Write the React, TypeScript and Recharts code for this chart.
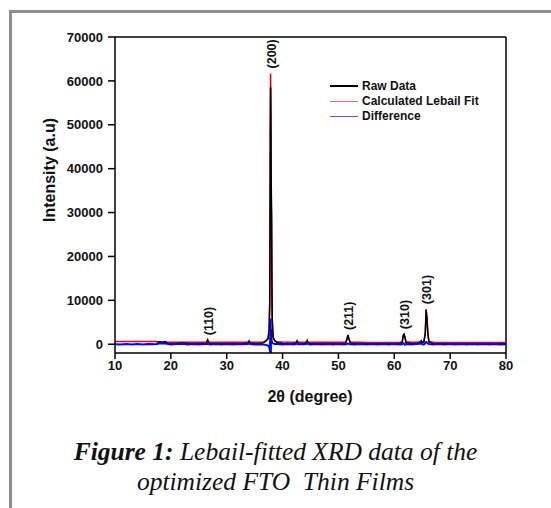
import React from "react";
import {
  ComposedChart,
  Line,
  XAxis,
  YAxis,
  ReferenceLine,
  ReferenceDot,
} from "recharts";

// 2-theta positions (degrees)
const twoTheta = [
  10, 11, 12, 13, 14, 15, 16, 17, 17.5, 18,
  18.5, 19, 19.5, 20, 21, 22, 23, 24, 25, 26,
  26.4, 26.6, 26.8, 27, 28, 29, 30, 31, 32, 33,
  33.8, 34, 34.2, 35, 36, 36.6, 37, 37.4, 37.6, 37.7,
  37.75, 37.8, 37.85, 37.9, 37.95, 38, 38.05, 38.1, 38.15, 38.3,
  38.6, 39, 40, 41, 42, 42.4, 42.6, 42.8, 43, 44,
  44.2, 44.4, 44.6, 45, 46, 47, 48, 49, 50, 51,
  51.3, 51.55, 51.7, 51.85, 52.1, 53, 54, 55, 56, 57,
  58, 59, 60, 61, 61.4, 61.6, 61.75, 61.9, 62.1, 63,
  64, 64.6, 64.8, 65, 65.3, 65.55, 65.7, 65.85, 66, 66.2,
  67, 68, 69, 70, 71, 72, 73, 74, 75, 76,
  77, 78, 79, 80,
];

// raw scan only shows from ~17.5 deg on
const rawData = [
  null, null, null, null, null, null, null, null, 200, 600,
  450, 620, 160, 130, 120, 330, 110, 120, 100, 140,
  300, 980, 300, 120, 110, 100, 100, 90, 100, 110,
  250, 760, 250, 90, 100, 350, 700, 1200, 3000, 9000,
  24000, 45000, 58500, 52000, 40000, 32000, 29000, 14000, 6000, 1600,
  800, 400, 160, 130, 120, 250, 780, 250, 120, 130,
  280, 880, 280, 110, 100, 90, 100, 90, 90, 100,
  250, 1300, 2100, 1400, 300, 90, 80, 80, 70, 80,
  90, 80, 90, 100, 300, 2000, 2300, 1600, 400, 90,
  100, 450, 820, 300, 500, 2600, 7800, 6000, 2800, 500,
  90, 80, 90, 80, 80, 70, 80, 75, 80, 70,
  80, 70, 80, 70,
];

const lebailFit = [
  600, 600, 600, 600, 600, 600, 600, 600, 600, 470,
  460, 460, 460, 450, 450, 450, 445, 445, 440, 440,
  520, 900, 520, 440, 440, 435, 430, 430, 430, 430,
  440, 560, 440, 430, 450, 520, 800, 1400, 3500, 10000,
  26000, 50000, 61700, 56000, 42000, 30000, 20000, 10000, 5000, 1500,
  750, 560, 480, 460, 460, 460, 540, 460, 455, 455,
  460, 520, 460, 450, 445, 440, 440, 435, 435, 440,
  470, 1200, 2000, 1300, 500, 430, 425, 420, 420, 420,
  420, 420, 420, 440, 480, 1900, 2200, 1700, 560, 430,
  430, 480, 650, 520, 650, 2300, 8000, 5500, 2500, 650,
  430, 420, 420, 420, 420, 415, 415, 415, 415, 415,
  415, 415, 415, 415,
];

const difference = [
  20, -60, 50, -40, 30, -70, 40, -30, 60, 220,
  150, 200, 50, -50, 40, 80, -60, 30, -80, 50,
  40, 90, 30, -40, 50, -60, 30, -50, 40, -30,
  40, 240, 30, -60, -40, -80, -150, -300, -600, -1200,
  -1000, 2500, 5800, -2000, 3500, 1500, 800, 600, 300, 200,
  60, 40, -50, 40, -60, 30, 260, -40, 50, -30,
  30, 320, 20, -60, 40, -50, 60, -40, 30, -60,
  -30, 100, 150, 80, 20, -50, 40, -60, 30, -40,
  50, -60, 30, -40, -30, 250, 150, -150, 40, -50,
  40, 100, 250, -30, -80, 300, 500, 400, 200, 50,
  -40, 50, -60, 30, -50, 40, -70, 60, -40, 30,
  -60, 40, -50, 0,
];

const xTicks = [10, 20, 30, 40, 50, 60, 70, 80];
const yTicks = [0, 10000, 20000, 30000, 40000, 50000, 60000, 70000];

const peakTheta = [26.6, 37.85, 51.7, 61.75, 65.7];
const peakTop = [900, 61700, 2100, 2300, 8000];
const peakLabels = ["(110)", "(200)", "(211)", "(310)", "(301)"];

const legendNames = ["Raw Data", "Calculated Lebail Fit", "Difference"];
const legendColors = ["#000000", "#f07070", "#5a5aff"];

const chartData = twoTheta.map((x, i) => ({
  x,
  raw: rawData[i],
  fit: lebailFit[i],
  diff: difference[i],
}));

const sans = "'Liberation Sans', Arial, sans-serif";
const tickStyle = { fill: "#111", fontSize: 13, fontWeight: 700, fontFamily: sans };

const PeakLabel = ({ cx, cy, text }: any) => (
  <text
    x={cx + 1}
    y={cy - 5}
    transform={`rotate(-90, ${cx + 1}, ${cy - 5})`}
    textAnchor="start"
    dominantBaseline="central"
    fontSize={12.5}
    fontWeight={700}
    fontFamily={sans}
    fill="#111"
  >
    {text}
  </text>
);

export default function App() {
  return (
    <div
      style={{
        position: "absolute",
        left: 0,
        top: 0,
        width: 551,
        height: 508,
        overflow: "hidden",
        background: "#fff",
      }}
    >
      <div
        style={{
          position: "absolute",
          left: 9,
          top: 10,
          width: 600,
          height: 600,
          border: "3px solid #8c8c8c",
        }}
      />
      <div style={{ position: "absolute", left: 0, top: 0 }}>
        <ComposedChart
          width={551}
          height={420}
          data={chartData}
          margin={{ top: 37, right: 45, bottom: 37, left: 55 }}
        >
          <XAxis
            dataKey="x"
            type="number"
            domain={[10, 80]}
            ticks={xTicks}
            allowDataOverflow
            height={30}
            stroke="#000"
            strokeWidth={1.5}
            tickSize={6}
            tickMargin={2}
            tick={tickStyle}
          />
          <YAxis
            type="number"
            domain={[-2000, 70000]}
            ticks={yTicks}
            allowDataOverflow
            width={60}
            stroke="#000"
            strokeWidth={1.5}
            tickSize={7}
            tickMargin={5}
            tick={tickStyle}
          />
          <ReferenceLine y={70000} stroke="#000" strokeWidth={1.5} />
          <ReferenceLine x={80} stroke="#000" strokeWidth={1.5} />
          <Line
            dataKey="fit"
            stroke="#e00000"
            strokeWidth={1.5}
            dot={false}
            activeDot={false}
            isAnimationActive={false}
          />
          <Line
            dataKey="raw"
            stroke="#000000"
            strokeWidth={1.5}
            dot={false}
            activeDot={false}
            isAnimationActive={false}
          />
          <Line
            dataKey="diff"
            stroke="#0000ff"
            strokeWidth={2}
            dot={false}
            activeDot={false}
            isAnimationActive={false}
          />
          {peakTheta.map((t, i) => (
            <ReferenceDot
              key={peakLabels[i]}
              x={t}
              y={peakTop[i]}
              r={0}
              shape={(p: any) => <PeakLabel cx={p.cx} cy={p.cy} text={peakLabels[i]} />}
            />
          ))}
        </ComposedChart>
      </div>

      {/* legend */}
      {legendNames.map((name, i) => (
        <div
          key={name}
          style={{
            position: "absolute",
            left: 330,
            top: 79 + i * 15,
            height: 14,
            display: "flex",
            alignItems: "center",
            fontFamily: sans,
            fontWeight: 700,
            fontSize: 12,
            color: "#111",
            whiteSpace: "nowrap",
          }}
        >
          <div
            style={{
              width: 28,
              height: i === 0 ? 2 : 1,
              background: legendColors[i],
              marginRight: 4,
            }}
          />
          {name}
        </div>
      ))}

      {/* axis titles */}
      <div
        style={{
          position: "absolute",
          left: 50,
          top: 170,
          transform: "translate(-50%, -50%) rotate(-90deg)",
          fontFamily: sans,
          fontWeight: 700,
          fontSize: 16,
          color: "#111",
          whiteSpace: "nowrap",
        }}
      >
        Intensity (a.u)
      </div>
      <div
        style={{
          position: "absolute",
          left: 310,
          top: 397,
          transform: "translate(-50%, -50%)",
          fontFamily: sans,
          fontWeight: 700,
          fontSize: 16,
          color: "#111",
          whiteSpace: "nowrap",
        }}
      >
        2θ (degree)
      </div>

      {/* caption */}
      <div
        style={{
          position: "absolute",
          left: 0,
          width: 551,
          top: 437,
          textAlign: "center",
          fontFamily: "'Liberation Serif', serif",
          fontStyle: "italic",
          fontSize: 25.5,
          lineHeight: "30px",
          color: "#111",
          whiteSpace: "pre",
        }}
      >
        <b>Figure 1:</b> Lebail-fitted XRD data of the{"\n"}optimized FTO  Thin Films
      </div>
    </div>
  );
}
